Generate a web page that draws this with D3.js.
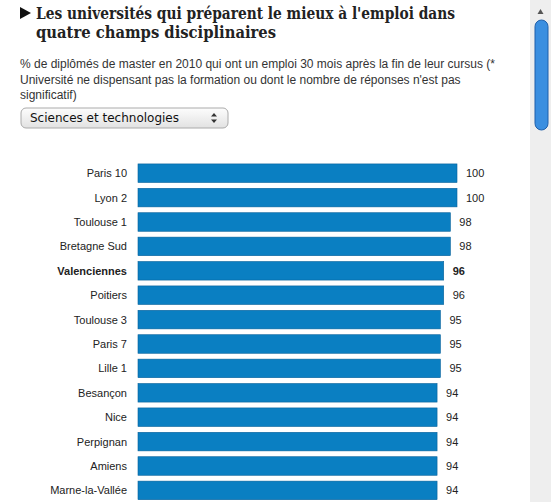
<!DOCTYPE html>
<html><head><meta charset="utf-8">
<script src="https://cdn.jsdelivr.net/npm/d3@7"></script>
<style>
body{margin:0;background:#fff;font-family:"Liberation Sans",Arial,sans-serif;overflow:hidden}
</style></head><body>
<svg id="c" width="551" height="502"></svg>
<script>
var universites = ['Paris 10', 'Lyon 2', 'Toulouse 1', 'Bretagne Sud', 'Valenciennes', 'Poitiers', 'Toulouse 3', 'Paris 7', 'Lille 1', 'Besançon', 'Nice', 'Perpignan', 'Amiens', 'Marne-la-Vallée']
var taux = [100, 100, 98, 98, 96, 96, 95, 95, 95, 94, 94, 94, 94, 94]
var highlight = 'Valenciennes'

var svg = d3.select('#c')

// title
svg.append('path').attr('d', 'M20 7 L31 13 L20 19 Z').attr('fill', '#111')
var title = svg.append('text').attr('font-family', '"DejaVu Serif",Georgia,serif')
  .attr('font-weight', 'bold').attr('font-size', 16).attr('fill', '#222')
title.append('tspan').attr('x', 36).attr('y', 19).attr('textLength', 419).attr('lengthAdjust', 'spacingAndGlyphs')
  .text("Les universités qui préparent le mieux à l'emploi dans")
title.append('tspan').attr('x', 36).attr('y', 38).attr('textLength', 240).attr('lengthAdjust', 'spacingAndGlyphs')
  .text('quatre champs disciplinaires')

var sub = svg.append('text').attr('font-size', 12).attr('fill', '#333')
sub.append('tspan').attr('x', 20).attr('y', 68).text("% de diplômés de master en 2010 qui ont un emploi 30 mois après la fin de leur cursus (*")
sub.append('tspan').attr('x', 20).attr('y', 84).text("Université ne dispensant pas la formation ou dont le nombre de réponses n'est pas")
sub.append('tspan').attr('x', 20).attr('y', 99).text('significatif)')

// select box
var defs = svg.append('defs')
var g1 = defs.append('linearGradient').attr('id', 'sel').attr('x1', 0).attr('x2', 0).attr('y1', 0).attr('y2', 1)
g1.append('stop').attr('offset', 0).attr('stop-color', '#fdfdfd')
g1.append('stop').attr('offset', 1).attr('stop-color', '#e2e2e2')
svg.append('rect').attr('x', 21).attr('y', 108).attr('width', 207).attr('height', 20).attr('rx', 5)
  .attr('fill', 'url(#sel)').attr('stroke', '#aaa')
svg.append('text').attr('x', 30).attr('y', 122).attr('font-family', '"DejaVu Sans",sans-serif')
  .attr('font-size', 12).attr('fill', '#111').text('Sciences et technologies')
svg.append('path').attr('d', 'M214 113 L217 116.5 L211 116.5 Z M214 123 L217 119.5 L211 119.5 Z').attr('fill', '#333')

// scrollbar
svg.append('rect').attr('x', 530).attr('y', 0).attr('width', 21).attr('height', 502).attr('fill', '#eee')
svg.append('path').attr('d', 'M540.5 9 L543.5 14 L537.5 14 Z').attr('fill', '#555')
svg.append('rect').attr('x', 535).attr('y', 20).attr('width', 13).attr('height', 110).attr('rx', 6.5)
  .attr('fill', '#3b8fe0').attr('stroke', '#1f5faa')

// bars
var x = d3.scaleLinear().domain([4, 100]).range([138, 457])
var y = d3.scaleBand().domain(universites).range([161, 161 + 24.4 * universites.length]).paddingInner(0.24).paddingOuter(0.12)

var rows = svg.append('g').selectAll('g').data(universites).join('g')
rows.append('rect').attr('x', x(4)).attr('y', d => y(d)).attr('height', y.bandwidth())
  .attr('width', (d, i) => x(taux[i]) - x(4)).attr('fill', '#0a7fc2').attr('stroke', '#06609a').attr('stroke-width', 0.6)
rows.append('text').attr('x', 127).attr('y', d => y(d) + y.bandwidth() / 2 + 4).attr('text-anchor', 'end')
  .attr('font-size', 11).attr('fill', '#222').attr('font-weight', d => d === highlight ? 'bold' : null).text(d => d)
rows.append('text').attr('x', (d, i) => x(taux[i]) + 9).attr('y', d => y(d) + y.bandwidth() / 2 + 4)
  .attr('font-size', 11).attr('fill', '#222').attr('font-weight', d => d === highlight ? 'bold' : null)
  .text((d, i) => taux[i])
</script>
</body></html>
